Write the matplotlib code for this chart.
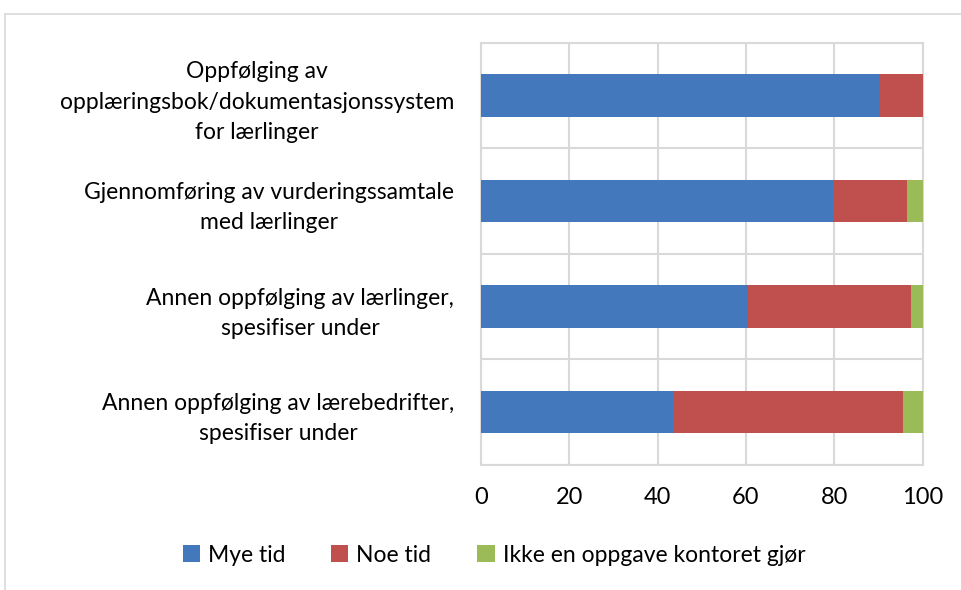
import matplotlib

matplotlib.use("Agg")
import matplotlib.pyplot as plt
import numpy as np
from matplotlib.lines import Line2D

plt.rcParams["font.family"] = ["Lato", "DejaVu Sans"]

categories = [
    "Oppfølging av\nopplæringsbok/dokumentasjonssystem\nfor lærlinger",
    "Gjennomføring av vurderingssamtale\nmed lærlinger",
    "Annen oppfølging av lærlinger,\nspesifiser under",
    "Annen oppfølging av lærebedrifter,\nspesifiser under",
]
series_names = ["Mye tid", "Noe tid", "Ikke en oppgave kontoret gjør"]
mye_tid = [90.2, 79.8, 60.2, 43.4]
noe_tid = [9.8, 16.7, 37.2, 52.1]
ikke_oppgave = [0.0, 3.5, 2.6, 4.5]
x_ticks = [0, 20, 40, 60, 80, 100]

colors = ["#4478BD", "#C0504D", "#9BBB59"]
grid_c = "#D9D9D9"

fig = plt.figure(figsize=(9.61, 5.90), dpi=100)
ax = fig.add_axes([0.5002, 0.2122, 0.46, 0.7154])

y = np.arange(len(categories))
left = np.zeros(len(categories))
for name, vals, c in zip(series_names, [mye_tid, noe_tid, ikke_oppgave], colors):
    ax.barh(y, vals, left=left, height=0.4, color=c, label=name, zorder=3)
    left = left + np.array(vals)

ax.set_xlim(0, 100)
ax.set_ylim(len(categories) - 0.5, -0.5)
ax.set_xticks(x_ticks)
ax.set_xticklabels([str(t) for t in x_ticks], fontsize=17, color="#000000")
ax.set_yticks(y)
ax.set_yticklabels(categories, fontsize=16.5, color="#000000",
                   multialignment="center", linespacing=1.55)
ax.set_yticks(np.arange(-0.5, len(categories), 1), minor=True)
ax.tick_params(axis="both", which="both", length=0)
ax.tick_params(axis="x", pad=16)
ax.tick_params(axis="y", pad=19)
ax.grid(axis="x", which="major", color=grid_c, linewidth=1.5, zorder=0)
ax.grid(axis="y", which="minor", color=grid_c, linewidth=1.5, zorder=0)
for s in ax.spines.values():
    s.set_color(grid_c)
    s.set_linewidth(1.5)

ax.legend(loc="center", bbox_to_anchor=(0.514, 0.059), bbox_transform=fig.transFigure,
          ncol=3, frameon=False, fontsize=16.5, handlelength=0.75, handleheight=0.75,
          handletextpad=0.35, columnspacing=2.0)

# outer chart border (cropped on right and bottom)
fig.add_artist(Line2D([5 / 961, 1], [1 - 13.5 / 590] * 2, transform=fig.transFigure,
                      color=grid_c, linewidth=1.2))
fig.add_artist(Line2D([5 / 961] * 2, [0, 1 - 13.5 / 590], transform=fig.transFigure,
                      color=grid_c, linewidth=1.2))

fig.savefig("out.png", dpi=100)
